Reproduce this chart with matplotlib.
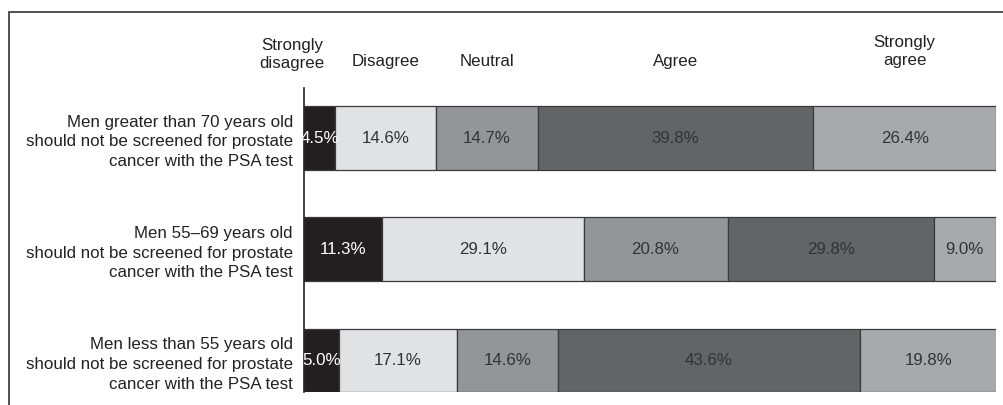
import numpy as np
import matplotlib.pyplot as plt
from matplotlib.patches import Rectangle

plt.rcParams['font.family'] = ['Liberation Sans', 'DejaVu Sans']

# data
statements = ['Men greater than 70 years old\nshould not be screened for prostate\ncancer with the PSA test',
              'Men 55\u201369 years old\nshould not be screened for prostate\ncancer with the PSA test',
              'Men less than 55 years old\nshould not be screened for prostate\ncancer with the PSA test']
responses = ['Strongly\ndisagree', 'Disagree', 'Neutral', 'Agree', 'Strongly\nagree']
strongly_disagree = [4.5, 11.3, 5.0]
disagree = [14.6, 29.1, 17.1]
neutral = [14.7, 20.8, 14.6]
agree = [39.8, 29.8, 43.6]
strongly_agree = [26.4, 9.0, 19.8]

series = [strongly_disagree, disagree, neutral, agree, strongly_agree]
colors = ['#231f20', '#e1e2e4', '#939598', '#636466', '#a8a9ac']
txtcol = ['white', '#333333', '#333333', '#333333', '#333333']
fs = 12.2
ls = 1.4

fig = plt.figure(figsize=(10.04, 4.05), dpi=100)
ax = fig.add_axes([304/1004, 13/405, 692/1004, (392-88)/405])

y = np.arange(len(statements))
left = np.zeros(len(statements))
for vals, c, tc in zip(series, colors, txtcol):
    vals = np.array(vals)
    ax.barh(y, vals, left=left, height=0.57, color=c, edgecolor='#3a3a3a', linewidth=0.9)
    for yi, l, v in zip(y, left, vals):
        ax.text(l + v/2, yi, '%.1f%%' % v, ha='center', va='center', color=tc, fontsize=fs)
    left += vals

# column headers, placed over the first row's segments
hx = [-1.7, 4.5 + 14.6/2, 19.1 + 14.7/2, 33.8 + 39.8/2, 73.6 + 26.4/2]
hy = [-0.75, -0.69, -0.69, -0.69, -0.78]
for x, yy, t in zip(hx, hy, responses):
    ax.text(x, yy, t, ha='center', va='center', fontsize=fs, color='#222222',
            linespacing=1.3, clip_on=False)

ax.set_xlim(0, 100)
ax.set_ylim(2.285, -0.45)
ax.set_yticks(y)
ax.set_yticklabels(statements, fontsize=fs, color='#222222', linespacing=ls)
ax.tick_params(axis='y', length=0, pad=8)
ax.set_xticks([])
for s in ['top', 'right', 'bottom']:
    ax.spines[s].set_visible(False)
ax.spines['left'].set_color('#222222')
ax.spines['left'].set_linewidth(1.2)

# outer frame (cut off at right and bottom)
fig.add_artist(Rectangle((9/1004, -0.1), 1.2, (405-12)/405 + 0.1, transform=fig.transFigure,
                         fill=False, edgecolor='#333333', linewidth=1.2))

fig.savefig('out.png', dpi=100)
